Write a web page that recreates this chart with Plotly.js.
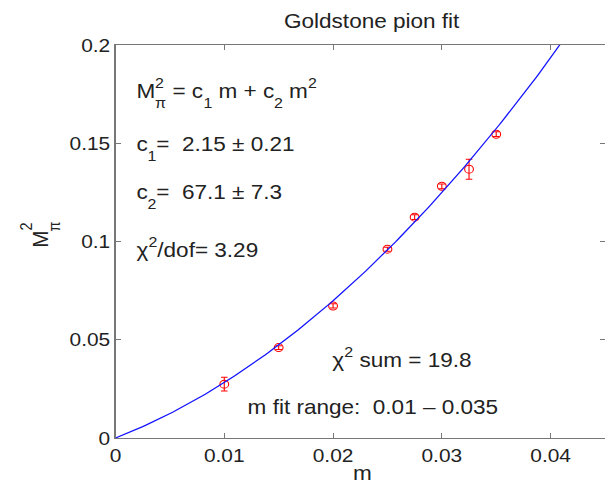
<!DOCTYPE html>
<html>
<head>
<meta charset="utf-8">
<script src="https://cdn.plot.ly/plotly-3.0.1.min.js"></script>
<style>
  html, body { margin: 0; padding: 0; background: #fff; overflow: hidden; }
  /* the figure is laid out 550px wide and drawn slightly widened to 605px */
  #chart { width: 550px; height: 485px; transform: scaleX(1.1); transform-origin: 0 0; }
</style>
</head>
<body>
<div id="chart"></div>
<script>
// Pion mass squared measured at each quark mass m
const quarkMass = [0.01, 0.015, 0.02, 0.025, 0.0275, 0.03, 0.0325, 0.035];
const pionMassSq = [0.0274, 0.0460, 0.0672, 0.0961, 0.1124, 0.1281, 0.1368, 0.1546];
const pionMassSqErr = [0.0035, 0.0010, 0.0011, 0.0010, 0.0012, 0.0012, 0.0051, 0.0012];

// Fit M_pi^2 = c1 m + c2 m^2 and its quality
const c1 = 2.15, c1Err = 0.21;
const c2 = 67.1, c2Err = 7.3;
const chi2PerDof = 3.29;
const chi2Sum = 19.8;
const fitRange = [0.01, 0.035];

// Axis ticks
const xTickVals = [0, 0.01, 0.02, 0.03, 0.04];
const xTickText = ['0', '0.01', '0.02', '0.03', '0.04'];
const yTickVals = [0, 0.05, 0.1, 0.15, 0.2];
const yTickText = ['0', '0.05', '0.1', '0.15', '0.2'];

const FONT = '"Liberation Sans", Arial, Helvetica, sans-serif';
const INK = '#222';
const AXIS = '#777';
const FS = 20.5, FS_SMALL = 14.5, FS_TICK = 19;
const S = 1.1;                       // horizontal widening of the drawn figure

// Fit curve sampled over the plotted m range
const curveM = [];
const curveY = [];
for (let i = 0; i <= 180; i++) {
  const m = i * 0.00025;
  curveM.push(m);
  curveY.push(c1 * m + c2 * m * m);
}

// Final on-screen geometry (pixels) used to place the text blocks
const W = 605, H = 485;
const plotL = 116, plotT = 45, plotB = 438;
const plotW = W - plotL, plotH = plotB - plotT;

const ctx = document.createElement('canvas').getContext('2d');
function measure(t, fs) {
  ctx.font = fs + 'px "Liberation Sans"';
  return ctx.measureText(t).width * S;
}
const nb = s => s.replace(/ /g, '\u00a0');

function txt(t, xPix, baseline, fs) {
  return {
    text: nb(t), xref: 'paper', yref: 'paper',
    x: (xPix - plotL) / plotW,
    y: (plotB - (baseline - 0.3465 * fs)) / plotH,
    xanchor: 'left', yanchor: 'middle', showarrow: false,
    borderpad: 0, borderwidth: 0,
    font: { family: FONT, size: fs, color: INK }
  };
}

// Lay out a run of normal / raised / lowered pieces along one baseline
function run(pieces, x0, baseline, out) {
  let x = x0;
  pieces.forEach(p => {
    if (p.stack) {
      let adv = 0;
      p.stack.forEach(s => {
        out.push(txt(s.t, x, baseline + s.shift, FS_SMALL));
        adv = Math.max(adv, measure(s.t, FS_SMALL));
      });
      x += adv;
    } else {
      const fs = p.small ? FS_SMALL : FS;
      out.push(txt(p.t, x, baseline + (p.shift || 0), fs));
      x += measure(p.t, fs);
    }
  });
}

const SUP = -10, SUB = 10;
const annotations = [];

run([
  { t: 'M' },
  { stack: [{ t: '2', shift: SUP }, { t: 'π', shift: SUB }] },
  { t: ' = c' }, { t: '1', small: true, shift: SUB },
  { t: ' m + c' }, { t: '2', small: true, shift: SUB },
  { t: ' m' }, { t: '2', small: true, shift: SUP }
], 137, 98, annotations);

run([
  { t: 'c' }, { t: '1', small: true, shift: SUB },
  { t: '=  ' + c1.toFixed(2) + ' ± ' + c1Err.toFixed(2) }
], 137, 151, annotations);

run([
  { t: 'c' }, { t: '2', small: true, shift: SUB },
  { t: '=  ' + c2.toFixed(1) + ' ± ' + c2Err.toFixed(1) }
], 137, 199, annotations);

run([
  { t: 'χ' }, { t: '2', small: true, shift: SUP },
  { t: '/dof= ' + chi2PerDof.toFixed(2) }
], 137, 257, annotations);

run([
  { t: 'χ' }, { t: '2', small: true, shift: SUP },
  { t: ' sum = ' + chi2Sum.toFixed(1) }
], 333, 367, annotations);

run([
  { t: 'm fit range:  ' + fitRange[0] + ' – ' + fitRange[1] }
], 248, 414, annotations);

// Rotated y-axis label M_pi^2
function rot(t, cx, cy, fs) {
  return {
    text: t, xref: 'paper', yref: 'paper',
    x: (cx - plotL) / plotW, y: (plotB - cy) / plotH,
    xanchor: 'center', yanchor: 'middle', textangle: -90,
    showarrow: false, borderpad: 0, borderwidth: 0,
    font: { family: FONT, size: fs, color: INK }
  };
}
annotations.push(rot('M', 40, 239, FS));
annotations.push(rot('2', 27.5, 226, FS_SMALL));
annotations.push(rot('π', 55, 226, FS_SMALL));

// x-axis label
annotations.push({
  text: 'm', xref: 'paper', yref: 'paper',
  x: (363 - plotL) / plotW, y: (plotB - (479.5 - 0.3465 * FS)) / plotH,
  xanchor: 'center', yanchor: 'middle', showarrow: false,
  borderpad: 0, borderwidth: 0,
  font: { family: FONT, size: FS, color: INK }
});

const points = {
  x: quarkMass, y: pionMassSq,
  type: 'scatter', mode: 'markers',
  marker: { symbol: 'circle-open', size: 8, color: 'rgb(255,0,0)', line: { width: 1, color: 'rgb(255,0,0)' } },
  error_y: { type: 'data', array: pionMassSqErr, visible: true, color: 'rgb(255,0,0)', thickness: 1, width: 3 },
  cliponaxis: false, hoverinfo: 'skip'
};

const fit = {
  x: curveM, y: curveY,
  type: 'scatter', mode: 'lines',
  line: { color: 'rgb(20,20,255)', width: 1.2 },
  hoverinfo: 'skip'
};

const axisCommon = {
  showgrid: false, zeroline: false,
  showline: true, linecolor: AXIS, linewidth: 1, mirror: 'ticks',
  ticks: 'inside', ticklen: 5, tickwidth: 1, tickcolor: AXIS,
  tickfont: { family: FONT, size: FS_TICK, color: INK },
  tickmode: 'array'
};

const layout = {
  width: W / S, height: H,
  margin: { l: plotL / S, r: 0, t: plotT, b: H - plotB, pad: 0 },
  paper_bgcolor: '#fff', plot_bgcolor: '#fff',
  showlegend: false,
  title: {
    text: 'Goldstone pion fit',
    font: { family: FONT, size: FS, color: INK },
    xref: 'container', yref: 'container',
    x: 371.7 / W, xanchor: 'center',
    y: 1 - 20.4 / H, yanchor: 'middle'
  },
  xaxis: Object.assign({}, axisCommon, {
    range: [0, 0.045], tickvals: xTickVals, ticktext: xTickText
  }),
  yaxis: Object.assign({}, axisCommon, {
    range: [0, 0.2], tickvals: yTickVals, ticktext: yTickText
  }),
  annotations: annotations
};

Plotly.newPlot('chart', [points, fit], layout, { staticPlot: true, displayModeBar: false });
</script>
</body>
</html>
